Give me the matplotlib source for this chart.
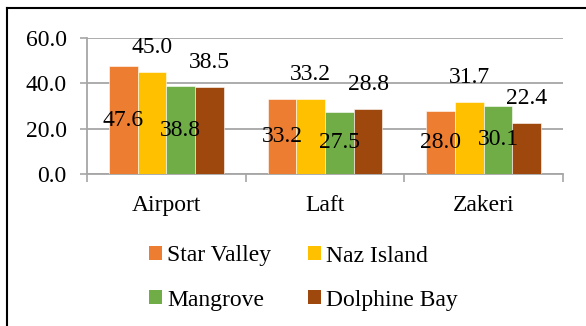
import matplotlib
matplotlib.use("Agg")
import matplotlib.pyplot as plt
from matplotlib.lines import Line2D
from matplotlib.patches import Patch
import numpy as np

plt.rcParams['font.family'] = 'serif'
plt.rcParams['font.serif'] = ['Liberation Serif', 'DejaVu Serif']

sites = ["Airport", "Laft", "Zakeri"]
series_names = ["Star Valley", "Naz Island", "Mangrove", "Dolphine Bay"]
star_valley = [47.6, 33.2, 28.0]
naz_island = [45.0, 33.2, 31.7]
mangrove = [38.8, 27.5, 30.1]
dolphine_bay = [38.5, 28.8, 22.4]
y_ticks = [0, 20, 40, 60]

series = [star_valley, naz_island, mangrove, dolphine_bay]
colors = ["#ED7D31", "#FFC000", "#70AD47", "#9E480E"]
label_inside = [True, False, True, False]

W, H = 586, 326
fig = plt.figure(figsize=(W / 100, H / 100), dpi=100)
ax = fig.add_axes([87 / W, 1 - 174 / H, (563 - 87) / W, (174 - 38) / H])

x = np.arange(len(sites))
bw = 0.181
fs = 17
for i, (vals, col) in enumerate(zip(series, colors)):
    pos = x + (i - 1.5) * bw
    ax.bar(pos, vals, width=bw, color=col, edgecolor="white",
           linewidth=0.4, zorder=3)
    for xp, v in zip(pos, vals):
        if label_inside[i]:
            ax.text(xp, v / 2, f"{v:.1f}", ha="center", va="center",
                    fontsize=fs, zorder=5)
        else:
            ax.annotate(f"{v:.1f}", (xp, v), xytext=(0, 17.5),
                        textcoords="offset points", ha="center",
                        va="center", fontsize=fs, zorder=5)

ax.set_xlim(-0.5, 2.5)
ax.set_ylim(0, 60)
ax.set_yticks(y_ticks)
ax.set_yticklabels([f"{t:.1f}" for t in y_ticks], fontsize=fs)
ax.yaxis.grid(True, color="#A6A6A6", linewidth=1.3, zorder=0)
ax.set_axisbelow(True)

ax.set_xticks([-0.5, 0.5, 1.5, 2.5])
ax.set_xticklabels([])
ax.set_xticks(x, minor=True)
ax.set_xticklabels(sites, minor=True, fontsize=fs)
ax.tick_params(axis="x", which="major", length=5.5, width=1.2, color="#A6A6A6")
ax.tick_params(axis="x", which="minor", length=0, pad=15)
ax.tick_params(axis="y", length=5, width=1.2, color="#A6A6A6", pad=9.5)

for s in ["top", "right"]:
    ax.spines[s].set_visible(False)
for s in ["left", "bottom"]:
    ax.spines[s].set_color("#A6A6A6")
    ax.spines[s].set_linewidth(1.3)

# two columns, filled row by row
order = [0, 2, 1, 3]
handles = [Patch(facecolor=colors[k], edgecolor="none") for k in order]
labels = [series_names[k] for k in order]
fig.legend(handles, labels, loc="upper left",
           bbox_to_anchor=(149 / W, 1 - 245.5 / H), ncol=2, frameon=False,
           fontsize=fs, handlelength=0.55, handleheight=0.55,
           handletextpad=0.22, columnspacing=1.55, labelspacing=0.98,
           borderpad=0, borderaxespad=0)

fig.add_artist(Line2D([7 / W, 1], [1 - 8 / H, 1 - 8 / H], color="black",
                      linewidth=1.5, transform=fig.transFigure))
fig.add_artist(Line2D([7 / W, 7 / W], [0, 1 - 8 / H], color="black",
                      linewidth=1.5, transform=fig.transFigure))

fig.savefig("out.png", dpi=100)
